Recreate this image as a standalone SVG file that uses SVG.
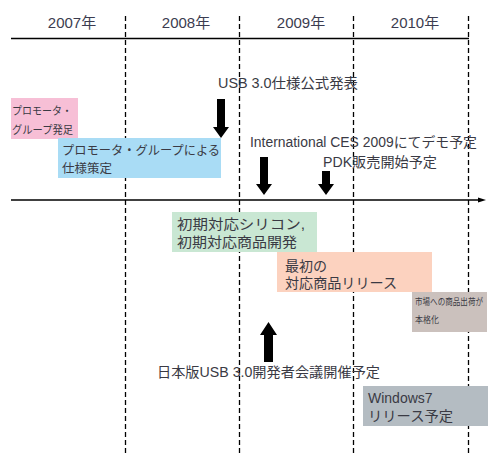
<svg xmlns="http://www.w3.org/2000/svg" width="496" height="462" viewBox="0 0 496 462">
<defs>
<style>
.t{font-family:"Liberation Sans","Noto Sans CJK JP",sans-serif;fill:#3a3a44}
.yr{font-size:15px;text-anchor:middle;fill:#3c3c50}
.dash{stroke:#000;stroke-width:1.3;stroke-dasharray:5,3;fill:none}
.ax{stroke:#000;stroke-width:1.5;fill:none}
.arr{fill:#000}
</style>
</defs>
<rect width="496" height="462" fill="#fff"/>
<g id="grid">
<line class="dash" x1="125.5" y1="16" x2="125.5" y2="456"/>
<line class="dash" x1="239.5" y1="16" x2="239.5" y2="456"/>
<line class="dash" x1="353.5" y1="16" x2="353.5" y2="456"/>
<line class="dash" x1="468.5" y1="16" x2="468.5" y2="456"/>
<line class="ax" x1="11" y1="38.5" x2="469" y2="38.5"/>
<line class="ax" x1="11" y1="200" x2="480" y2="200"/>
<polygon class="arr" points="486,200 478,197.5 478,202.5"/>
</g>
<g id="years">
<text class="t yr" x="72" y="28">2007年</text>
<text class="t yr" x="186" y="28">2008年</text>
<text class="t yr" x="301" y="28">2009年</text>
<text class="t yr" x="415" y="28">2010年</text>
</g>
<g id="promoter-start">
<rect x="11" y="98" width="67" height="41" fill="#f7bfd6"/>
<text class="t" font-size="11" x="12" y="115" textLength="60" lengthAdjust="spacingAndGlyphs">プロモータ・</text>
<text class="t" font-size="11" x="12" y="134" textLength="61" lengthAdjust="spacingAndGlyphs">グループ発足</text>
</g>
<g id="spec">
<rect x="58" y="138" width="163" height="40" fill="#a9dcf5"/>
<text class="t" font-size="12.5" x="62" y="155" textLength="158" lengthAdjust="spacingAndGlyphs">プロモータ・グループによる</text>
<text class="t" font-size="12.5" x="62" y="173">仕様策定</text>
</g>
<g id="usb30">
<text class="t" font-size="14" x="218" y="88" textLength="140" lengthAdjust="spacingAndGlyphs">USB 3.0仕様公式発表</text>
</g>
<g id="ces">
<text class="t" font-size="14" x="250" y="147" textLength="227" lengthAdjust="spacingAndGlyphs">International CES 2009にてデモ予定</text>
</g>
<g id="pdk">
<text class="t" font-size="14" x="323" y="167" textLength="114" lengthAdjust="spacingAndGlyphs">PDK販売開始予定</text>
</g>
<g id="silicon">
<rect x="172" y="212" width="145" height="40" fill="#c9e7d3"/>
<text class="t" font-size="14" x="177" y="229" textLength="128" lengthAdjust="spacingAndGlyphs">初期対応シリコン,</text>
<text class="t" font-size="14" x="177" y="247" textLength="120" lengthAdjust="spacingAndGlyphs">初期対応商品開発</text>
</g>
<g id="first-release">
<rect x="277" y="252" width="155" height="40" fill="#fcd2bf"/>
<text class="t" font-size="14" x="285" y="271">最初の</text>
<text class="t" font-size="14" x="285" y="288" textLength="112" lengthAdjust="spacingAndGlyphs">対応商品リリース</text>
</g>
<g id="market">
<rect x="412" y="292" width="75" height="40" fill="#cbc1bd"/>
<text class="t" font-size="9" x="415" y="305" textLength="68" lengthAdjust="spacingAndGlyphs">市場への商品出荷が</text>
<text class="t" font-size="9" x="415" y="323" textLength="24" lengthAdjust="spacingAndGlyphs">本格化</text>
</g>
<g id="jp-conf">
<text class="t" font-size="14" x="157" y="377" textLength="223" lengthAdjust="spacingAndGlyphs">日本版USB 3.0開発者会議開催予定</text>
</g>
<g id="windows7">
<rect x="363" y="386" width="125" height="40" fill="#b4bcc2"/>
<text class="t" font-size="14" x="368" y="403">Windows7</text>
<text class="t" font-size="14" x="368" y="421" textLength="85" lengthAdjust="spacingAndGlyphs">リリース予定</text>
</g>
<g id="connectors">
<polygon class="arr" points="217,99 225,99 225,127 229,127 221,138 213,127 217,127"/>
<polygon class="arr" points="260,157 268,157 268,184 272,184 264,195 256,184 260,184"/>
<polygon class="arr" points="322,171 330,171 330,184 334,184 326,195 318,184 322,184"/>
<polygon class="arr" points="268.5,322 277,335 273,335 273,362 264,362 264,335 260,335"/>
</g>
</svg>
